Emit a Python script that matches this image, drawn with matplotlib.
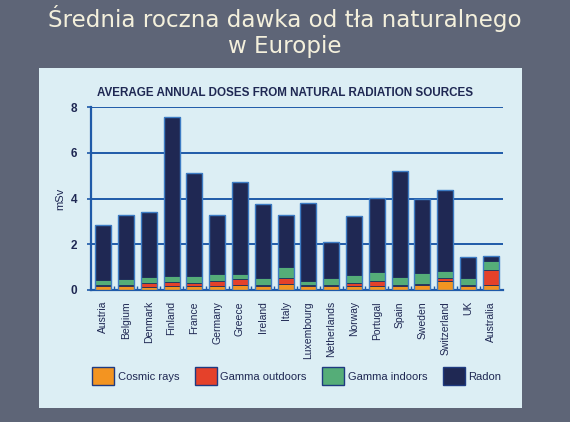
import matplotlib
matplotlib.use("Agg")
import matplotlib.pyplot as plt
from matplotlib.patches import Patch
import numpy as np

countries = ["Austria", "Belgium", "Denmark", "Finland", "France", "Germany",
             "Greece", "Ireland", "Italy", "Luxembourg", "Netherlands", "Norway",
             "Portugal", "Spain", "Sweden", "Switzerland", "UK", "Australia"]
cosmic = [0.18, 0.18, 0.15, 0.18, 0.18, 0.18, 0.22, 0.18, 0.28, 0.18, 0.18, 0.18,
          0.18, 0.18, 0.22, 0.38, 0.18, 0.22]
gamma_out = [0.03, 0.03, 0.15, 0.15, 0.12, 0.2, 0.25, 0.03, 0.25, 0.03, 0.03, 0.12,
             0.2, 0.03, 0.03, 0.15, 0.03, 0.67]
gamma_in = [0.24, 0.27, 0.25, 0.3, 0.32, 0.32, 0.25, 0.33, 0.47, 0.18, 0.32, 0.35,
            0.4, 0.35, 0.5, 0.32, 0.3, 0.36]
totals = [2.82, 3.29, 3.39, 7.56, 5.12, 3.26, 4.72, 3.76, 3.26, 3.80, 2.08, 3.23,
          4.03, 5.22, 3.96, 4.36, 1.46, 1.48]
radon = [t - c - o - i for t, c, o, i in zip(totals, cosmic, gamma_out, gamma_in)]

series = ["Cosmic rays", "Gamma outdoors", "Gamma indoors", "Radon"]
colors = ["#f39421", "#e5412a", "#55ad78", "#1f2853"]
yticks = [0, 2, 4, 6, 8]

plt.rcParams['font.family'] = ['Liberation Sans', 'DejaVu Sans']

fig = plt.figure(figsize=(5.7, 4.22), dpi=100)
fig.patch.set_facecolor("#5e6577")

W, H = 570, 422
# chart panel
panel = fig.add_axes([39 / W, 1 - 408 / H, (522 - 39) / W, (408 - 68) / H], zorder=0)
panel.set_facecolor("#dceef4")
panel.set_xticks([])
panel.set_yticks([])
for s in panel.spines.values():
    s.set_visible(False)

fig.text(0.5, 1 - 18 / H, "Średnia roczna dawka od tła naturalnego", ha="center",
         va="center", color="#f4f0dc", fontsize=16.6, family=["DejaVu Sans"])
fig.text(0.5, 1 - 47 / H, "w Europie", ha="center", va="center", color="#f4f0dc",
         fontsize=16.6, family=["DejaVu Sans"])

ax = fig.add_axes([91 / W, 1 - 290 / H, (503 - 91) / W, (290 - 107) / H], zorder=2)
ax.set_facecolor("none")
x = np.arange(len(countries))
bottom = np.zeros(len(countries))
for vals, col, name in zip([cosmic, gamma_out, gamma_in, radon], colors, series):
    ax.bar(x, vals, width=0.7, bottom=bottom, color=col, edgecolor="#20305a",
           linewidth=0.6, label=name, zorder=3)
    bottom += np.array(vals)
# light-blue outlines around whole bars
ax.bar(x, totals, width=0.7, fill=False, edgecolor="#3d7cc4", linewidth=1.0, zorder=4)

ax.set_xlim(-0.53, len(countries) - 0.47)
ax.set_ylim(0, 8)
ax.set_yticks(yticks)
ax.set_yticklabels([str(v) for v in yticks], fontweight="bold", fontsize=8.5,
                   color="#1f2853")
ax.yaxis.grid(True, color="#1f5aa8", linewidth=1.4, zorder=1)
ax.set_axisbelow(True)
ax.set_xticks(x)
ax.set_xticklabels(countries, rotation=90, fontsize=7.5, color="#1f2853", va="top")
ax.set_xticks(x[:-1] + 0.5, minor=True)
ax.tick_params(axis="x", which="major", length=0, pad=8)
ax.tick_params(axis="x", which="minor", length=3, direction="in", color="#1f5aa8", width=1)
ax.tick_params(axis="y", length=3, color="#1f5aa8", width=1.2, pad=7)
for s in ["top", "right"]:
    ax.spines[s].set_visible(False)
for s in ["left", "bottom"]:
    ax.spines[s].set_color("#1f5aa8")
    ax.spines[s].set_linewidth(1.6)
ax.set_ylabel("mSv", fontsize=8, color="#1f2853", labelpad=4)

ax.set_title("AVERAGE ANNUAL DOSES FROM NATURAL RADIATION SOURCES", fontsize=8.4,
             fontweight="bold", color="#1f2853", pad=8, x=0.47)

handles = [Patch(facecolor=c, edgecolor="#1f3a80", linewidth=1.0) for c in colors]
leg = fig.legend(handles, series, loc="center left", bbox_to_anchor=(82 / W, 1 - 376 / H),
                 ncol=4, frameon=False, fontsize=8, handlelength=2.0, handleheight=2.0,
                 handletextpad=0.3, columnspacing=1.4, labelcolor="#1f2853")
leg.set_zorder(3)

fig.savefig("out.png", dpi=100, facecolor=fig.get_facecolor())
